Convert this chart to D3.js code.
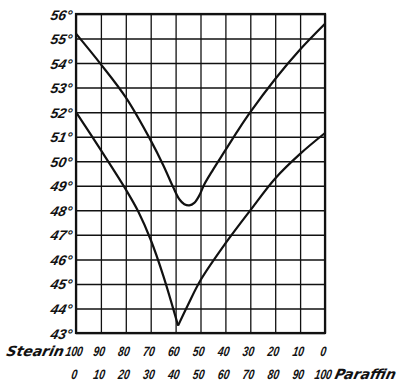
<!DOCTYPE html>
<html>
<head>
<meta charset="utf-8">
<script src="https://cdn.jsdelivr.net/npm/d3@7"></script>
<style>
  html, body { margin: 0; padding: 0; background: #fff; }
  svg { display: block; }
</style>
</head>
<body>
<svg id="chart" width="399" height="383"></svg>
<script>
// Melting points of stearin / paraffin mixtures
const paraffinTicks = [0, 10, 20, 30, 40, 50, 60, 70, 80, 90, 100];
const stearinLabels = ["100", "90", "80", "70", "60", "50", "40", "30", "20", "10", "0"];
const paraffinLabels = ["0", "10", "20", "30", "40", "50", "60", "70", "80", "90", "100"];
const tempTicks = [43, 44, 45, 46, 47, 48, 49, 50, 51, 52, 53, 54, 55, 56];

// upper curve
const upperParaffin = [0, 10, 20, 30, 35, 39, 41.5, 43.5, 45.5, 47.5, 49.5, 51.5, 55, 60, 65, 70, 80, 90, 100];
const upperTemp =     [55.2, 53.95, 52.6, 50.85, 49.85, 48.95, 48.45, 48.25, 48.2, 48.3, 48.6, 49.05, 49.65, 50.45, 51.25, 52.0, 53.35, 54.55, 55.6];

// lower curve (sharp minimum)
const lowerParaffin = [0, 10, 20, 25, 30, 35, 41, 45, 50, 60, 70, 80, 90, 100];
const lowerTemp =     [52.0, 50.45, 48.85, 47.95, 46.8, 45.35, 43.3, 44.15, 45.15, 46.65, 48.0, 49.3, 50.3, 51.15];
const lowerMinIndex = 6;

const svg = d3.select("#chart");
const x = d3.scaleLinear().domain([0, 100]).range([76, 325]);
const y = d3.scaleLinear().domain([43, 56]).range([333, 14]);
const W = x.range()[1] - x.range()[0];
const H = y.range()[0] - y.range()[1];
const ink = "#111";
const slant = "skewX(-13)";

function styleLabel(sel, size, family) {
  sel.attr("font-family", family)
    .attr("font-weight", "bold")
    .attr("font-style", "italic")
    .attr("font-size", size)
    .attr("fill", ink);
}

// grid
svg.append("g")
  .attr("transform", `translate(${x(0)},0)`)
  .call(d3.axisLeft(y).tickValues(tempTicks).tickSize(-W).tickFormat(""))
  .call(g => g.select(".domain").remove())
  .call(g => g.selectAll("line").attr("stroke", ink).attr("stroke-width", 1.5));

svg.append("g")
  .attr("transform", `translate(0,${y(43)})`)
  .call(d3.axisBottom(x).tickValues(paraffinTicks).tickSize(-H).tickFormat(""))
  .call(g => g.select(".domain").remove())
  .call(g => g.selectAll("line").attr("stroke", ink).attr("stroke-width", 1.3));

// frame
svg.append("rect")
  .attr("x", x(0)).attr("y", y(56)).attr("width", W).attr("height", H)
  .attr("fill", "none").attr("stroke", ink).attr("stroke-width", 2.2);

// y labels
svg.append("g")
  .attr("transform", `translate(${x(0)},0)`)
  .call(d3.axisLeft(y).tickValues(tempTicks).tickSize(0).tickPadding(4).tickFormat(d => d + "°"))
  .call(g => g.select(".domain").remove())
  .call(g => g.selectAll("text")
    .call(styleLabel, 14, "Liberation Sans, Arial, sans-serif")
    .attr("dy", "0.36em")
    .attr("transform", slant));

// x labels: stearin row and paraffin row
function xLabels(labels, baseline) {
  svg.append("g")
    .attr("transform", `translate(0,${y(43)})`)
    .call(d3.axisBottom(x).tickValues(paraffinTicks).tickSize(0).tickFormat((d, i) => labels[i]))
    .call(g => g.select(".domain").remove())
    .call(g => g.selectAll("text")
      .call(styleLabel, 13.5, "Liberation Sans, Arial, sans-serif")
      .attr("y", 0).attr("dy", 0)
      .attr("transform", `translate(-3,${baseline}) scale(0.76,1) ${slant}`));
}
xLabels(stearinLabels, 23);
xLabels(paraffinLabels, 46);

svg.append("text")
  .call(styleLabel, 14, "DejaVu Sans, sans-serif")
  .attr("transform", `translate(63,356) ${slant}`)
  .attr("text-anchor", "end").text("Stearin");
svg.append("text")
  .call(styleLabel, 14, "DejaVu Sans, sans-serif")
  .attr("transform", `translate(334,379) ${slant}`)
  .text("Paraffin");

// curves
const line = d3.line().x(d => x(d[0])).y(d => y(d[1])).curve(d3.curveCatmullRom.alpha(0.5));
const upper = upperParaffin.map((p, i) => [p, upperTemp[i]]);
const lower = lowerParaffin.map((p, i) => [p, lowerTemp[i]]);

svg.append("path").datum(upper).attr("d", line)
  .attr("fill", "none").attr("stroke", ink).attr("stroke-width", 2.2);
svg.append("path").datum(lower.slice(0, lowerMinIndex + 1)).attr("d", line)
  .attr("fill", "none").attr("stroke", ink).attr("stroke-width", 2.2);
svg.append("path").datum(lower.slice(lowerMinIndex)).attr("d", line)
  .attr("fill", "none").attr("stroke", ink).attr("stroke-width", 2.2);
</script>
</body>
</html>
